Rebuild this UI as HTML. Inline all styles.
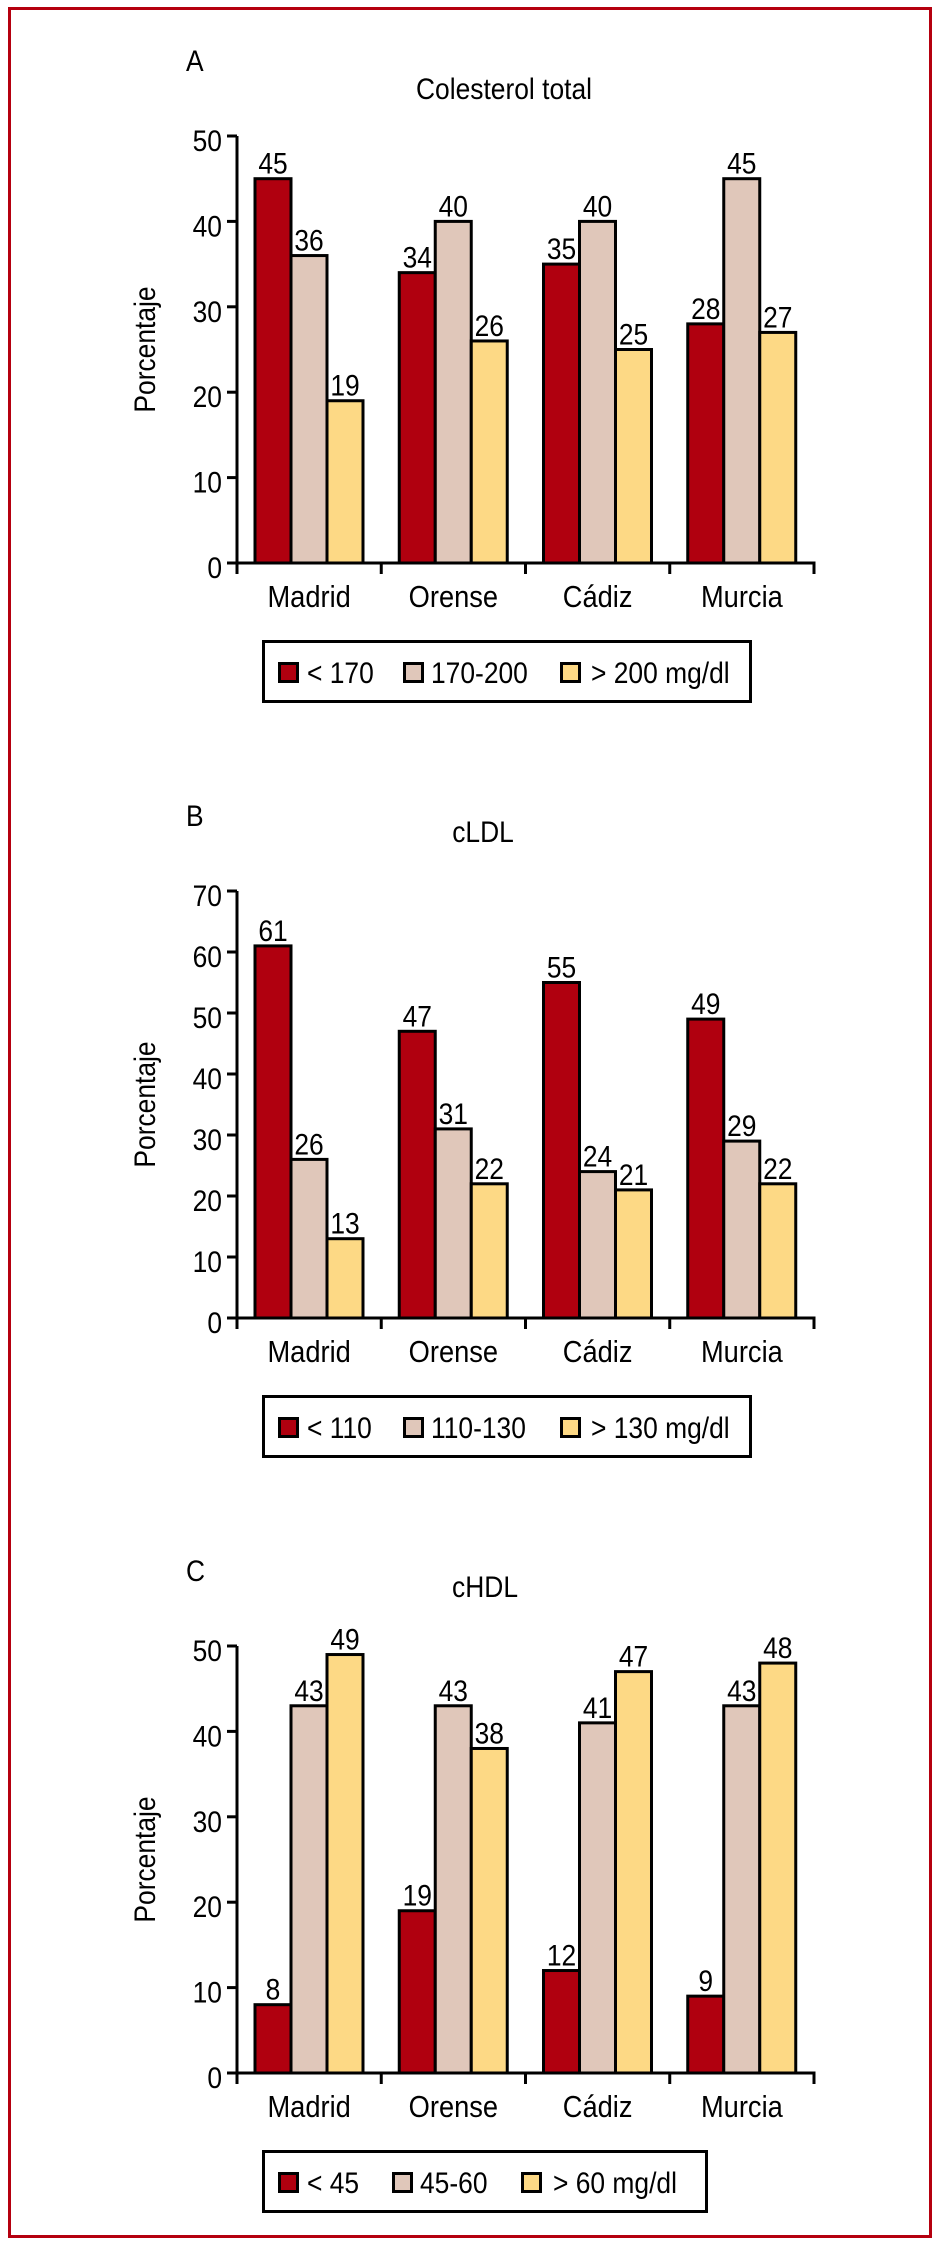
<!DOCTYPE html>
<html><head><meta charset="utf-8"><style>
html,body{margin:0;padding:0;background:#fff;}
svg{display:block;}
text{font-family:"Liberation Sans",Arial,sans-serif;fill:#000;}
</style></head><body>
<svg id="fig" width="938" height="2249" viewBox="0 0 938 2249" xmlns="http://www.w3.org/2000/svg">
<rect x="9.5" y="8.5" width="921" height="2228" fill="#fff" stroke="#b5000f" stroke-width="3"/>
</svg>
<script>
const categories = ["Madrid","Orense","Cádiz","Murcia"];
const seriesA1 = [45,34,35,28];
const seriesA2 = [36,40,40,45];
const seriesA3 = [19,26,25,27];
const seriesB1 = [61,47,55,49];
const seriesB2 = [26,31,24,29];
const seriesB3 = [13,22,21,22];
const seriesC1 = [8,19,12,9];
const seriesC2 = [43,43,41,43];
const seriesC3 = [49,38,47,48];
const ticksA = [0,10,20,30,40,50];
const ticksB = [0,10,20,30,40,50,60,70];
const ticksC = [0,10,20,30,40,50];
const legendA = ["< 170","170-200","> 200 mg/dl"];
const legendB = ["< 110","110-130","> 130 mg/dl"];
const legendC = ["< 45","45-60","> 60 mg/dl"];

const NS = "http://www.w3.org/2000/svg";
const svg = document.getElementById('fig');
const COLORS = ["#b0000f","#e0c7ba","#fdd985"];
const SX = 0.88;

function mk(tag, attrs, parent){
  const e = document.createElementNS(NS, tag);
  for (const k in attrs) e.setAttribute(k, attrs[k]);
  (parent||svg).appendChild(e);
  return e;
}
function txt(str, x, y, anchor, size, parent, rot){
  const t = document.createElementNS(NS,'text');
  let tr = 'translate(' + x + ',' + y + ')';
  if (rot) tr += ' rotate(' + rot + ')';
  tr += ' scale(' + SX + ',1)';
  t.setAttribute('transform', tr);
  t.setAttribute('text-anchor', anchor);
  t.setAttribute('font-size', size);
  t.textContent = str;
  (parent||svg).appendChild(t);
  return t;
}

function chart(cfg){
  const g = mk('g', {});
  
  
  const x0 = 237, x1 = 814, y0 = cfg.axisY, h = 427;
  const ymax = cfg.ticks[cfg.ticks.length-1];
  const yScale = v => y0 - v / ymax * h;
  const gw = (x1 - x0) / categories.length;
  const bw = 36;
  const xBar = (i, s) => x0 + i * gw + 18 + s * bw;

  const lt = txt(cfg.letter, 186, y0 - h - 65, 'start', 30, g);
  
  
  const tt = txt(cfg.title, cfg.titleX, y0 - h - cfg.titleGap, 'middle', 30, g);
  
  
  const yl = txt('Porcentaje', 155, y0 - h/2, 'middle', 30, g, -90);
  
  

  // bars
  const series = cfg.series;
  series.forEach((vals, s) => {
    vals.forEach((v, i) => {
      const yt = yScale(v);
      const r = mk('rect', {x: xBar(i,s), y: yt, width: bw, height: y0 - yt, fill: COLORS[s], stroke: '#000', 'stroke-width': 3}, g);
      
      
      const vl = txt(String(v), xBar(i,s) + bw/2, yt - 5, 'middle', 30, g);
      
      
    });
  });

  // y axis
  const ya = mk('line', {x1: x0, y1: y0 - h, x2: x0, y2: y0 + 11, stroke: '#000', 'stroke-width': 3}, g);
  
  
  cfg.ticks.forEach(v => {
    const yy = yScale(v);
    const tl = mk('line', {x1: x0 - 10, y1: yy, x2: x0, y2: yy, stroke: '#000', 'stroke-width': 3}, g);
    
    
    const lb = txt(String(v), 222, yy + 15, 'end', 30, g);
    
    
  });
  // x axis
  const xa = mk('line', {x1: x0 - 10, y1: y0, x2: x1 + 1.5, y2: y0, stroke: '#000', 'stroke-width': 3}, g);
  
  
  for (let i = 0; i <= categories.length; i++){
    const xx = x0 + i * gw;
    const tk = mk('line', {x1: xx, y1: y0, x2: xx, y2: y0 + 11, stroke: '#000', 'stroke-width': 3}, g);
    
    
  }
  categories.forEach((c, i) => {
    const cl = txt(c, x0 + i * gw + gw/2, y0 + 44, 'middle', 31, g);
    
    
  });

  // legend
  const ly = y0 + 77;
  const lg = mk('g', {}, g);
  
  
  const lb = mk('rect', {x: 263.5, y: ly + 1.5, width: cfg.legRight - 265, height: 60, fill: '#fff', stroke: '#000', 'stroke-width': 3}, lg);
  
  
  cfg.legend.forEach((l, k) => {
    const sw = mk('rect', {x: cfg.swX[k] + 1.5, y: ly + 23.5, width: 18, height: 18, fill: COLORS[k], stroke: '#000', 'stroke-width': 3}, lg);
    
    
    const lt2 = txt(l, cfg.txX[k], ly + 43, 'start', 30, lg);
    
    
  });
}

chart({name:'chart-colesterol-total', letter:'A', title:'Colesterol total', titleX:504, titleGap:37, axisY:563, ticks:ticksA,
  series:[seriesA1,seriesA2,seriesA3], legend:legendA, legRight:752, swX:[278,403,560], txX:[307,431,591]});
chart({name:'chart-cldl', letter:'B', title:'cLDL', titleX:483, titleGap:49, axisY:1318, ticks:ticksB,
  series:[seriesB1,seriesB2,seriesB3], legend:legendB, legRight:752, swX:[278,403,560], txX:[307,431,591]});
chart({name:'chart-chdl', letter:'C', title:'cHDL', titleX:485, titleGap:49, axisY:2073, ticks:ticksC,
  series:[seriesC1,seriesC2,seriesC3], legend:legendC, legRight:708, swX:[278,392,521], txX:[307,420,553]});
</script>
</body></html>
